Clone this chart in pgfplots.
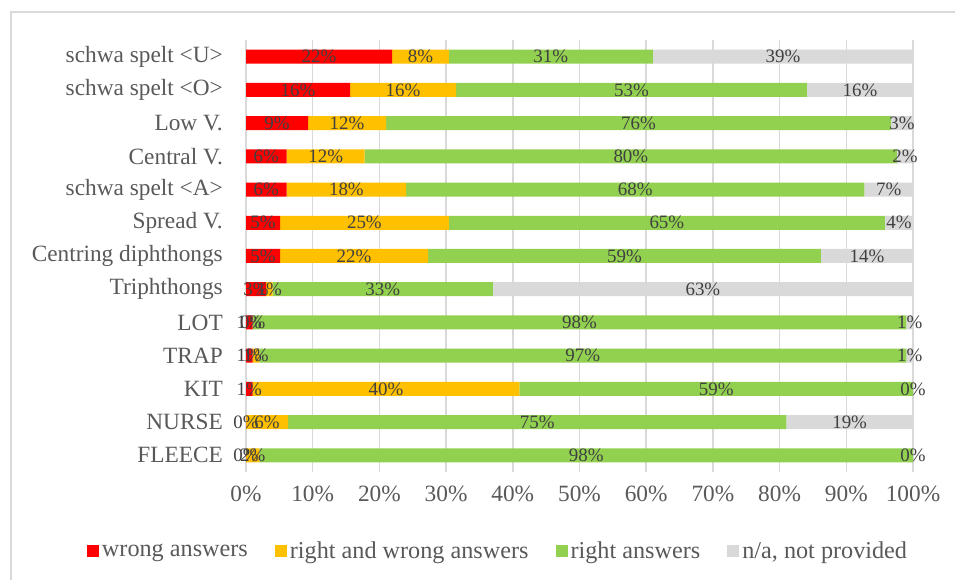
\documentclass[border=0pt]{standalone}
\usepackage{pgfplots}
\pgfplotsset{compat=1.18}
\usepackage{pgfplotstable}
\usepackage{fontspec}
\setmainfont{Liberation Serif}
\definecolor{cwrong}{HTML}{FF0000}
\definecolor{crw}{HTML}{FFC000}
\definecolor{cright}{HTML}{92D050}
\definecolor{cna}{HTML}{D9D9D9}
\definecolor{txt}{HTML}{595959}
\definecolor{lbl}{HTML}{404040}

\pgfplotstableread{
y  w    rw   r    na   lw lrw lr lna
0  0.01 2    97.98 0.01 0  2   98 0
1  0.01 6.3  74.69 19  0  6   75 19
2  1    40   58.99 0.01 1  40  59 0
3  1    1    97   1    1  1   97 1
4  1    0.01 97.99 1   1  0   98 1
5  3    1    33   63   3  1   33 63
6  5.1  22.2 58.9 13.8 5  22  59 14
7  5.1  25.3 65.4 4.2  5  25  65 4
8  6.1  17.9 68.7 7.3  6  18  68 7
9  6.1  11.7 79.8 2.4  6  12  80 2
10 9.3  11.7 75.7 3.3  9  12  76 3
11 15.6 15.9 52.6 15.9 16 16  53 16
12 21.9 8.5  30.6 39   22 8   31 39
}\data

\begin{document}
\begin{tikzpicture}
\useasboundingbox (0,0) rectangle (955bp,580bp);
\fill[white] (0,0) rectangle (955bp,580bp);
\draw[cna, line width=1.5bp] (11bp,0) -- (11bp,568bp) -- (955bp,568bp);
\begin{axis}[
  at={(246bp,108bp)}, anchor=south west,
  scale only axis, width=667bp, height=432bp,
  xbar stacked, bar width=14bp,
  xmin=0, xmax=100, ymin=-0.5, ymax=12.5,
  xtick={0,10,...,100},
  xticklabels={0\%,10\%,20\%,30\%,40\%,50\%,60\%,70\%,80\%,90\%,100\%},
  ytick={0,...,12},
  yticklabels={FLEECE,NURSE,KIT,TRAP,LOT,Triphthongs,Centring diphthongs,Spread V.,schwa spelt \textless A\textgreater,Central V.,Low V.,schwa spelt \textless O\textgreater,schwa spelt \textless U\textgreater},
  major tick length=0pt, tick style={draw=none},
  axis line style={draw=none},
  xmajorgrids, grid style={draw=cna, line width=1.5bp},
  ticklabel style={font=\fontsize{23.4}{26}\selectfont, text=txt, inner sep=0pt},
  yticklabel style={xshift=-23bp},
  xticklabel style={yshift=-14bp},
  point meta=explicit symbolic,
  nodes near coords={\pgfplotspointmeta\%},
  nodes near coords align={center},
  every node near coord/.append style={anchor=center, font=\fontsize{19}{21}\selectfont, text=lbl, inner sep=0pt},
  legend image code/.code={\fill[#1] (0bp,-6bp) rectangle (12bp,6bp);},
  legend style={at={(0.3786,-0.183)}, anchor=center, draw=none, fill=none,
    legend columns=4, font=\fontsize{24.3}{27}\selectfont, text=txt,
    inner sep=0pt, nodes={inner xsep=3bp},
    /tikz/every even column/.append style={column sep=24bp}},
]
\addplot[fill=cwrong, draw=none] table[x=w, y=y, meta=lw] {\data};
\addplot[fill=crw, draw=none] table[x=rw, y=y, meta=lrw] {\data};
\addplot[fill=cright, draw=none] table[x=r, y=y, meta=lr] {\data};
\addplot[fill=cna, draw=none] table[x=na, y=y, meta=lna] {\data};
\legend{wrong answers, right and wrong answers, right answers, {n/a, not provided}}
\end{axis}
\end{tikzpicture}
\end{document}
